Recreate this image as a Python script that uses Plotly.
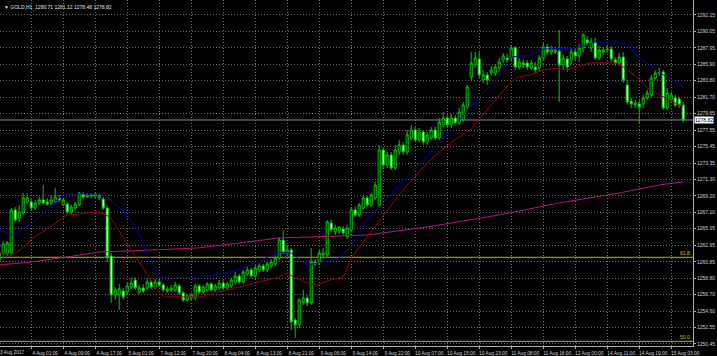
import plotly.graph_objects as go

# ---------------- data ----------------
opens = [1261.09,1261.97,1261.85,1261.97,1267.42,1266.41,1267.04,1268.43,1268.43,1267.67,
         1268.31,1268.69,1268.43,1268.31,1268.43,1268.94,1268.05,1268.18,1267.17,1267.67,
         1268.05,1269.45,1269.07,1269.19,1269.19,1268.94,1268.81,1267.67,1261.59,1256.65,
         1256.65,1257.16,1257.03,1257.67,1258.55,1257.03,1257.54,1257.54,1258.30,1257.67,
         1258.30,1257.92,1257.16,1257.29,1257.29,1257.79,1256.91,1256.02,1256.27,1256.27,
         1257.79,1257.03,1257.29,1258.05,1257.29,1257.54,1258.17,1257.54,1257.79,1258.30,
         1259.06,1258.30,1259.31,1259.82,1259.06,1259.82,1260.33,1259.82,1260.33,1260.58,
         1261.34,1263.62,1261.97,1262.35,1253.49,1252.85,1255.77,1256.27,1255.64,1260.83,
         1260.71,1261.72,1261.72,1265.77,1264.63,1264.76,1265.01,1264.00,1264.89,1267.42,
         1266.79,1267.67,1268.94,1268.05,1268.94,1268.05,1275.02,1273.12,1274.39,1272.74,
         1274.77,1275.65,1274.77,1276.54,1277.55,1276.29,1277.30,1276.03,1276.54,1277.55,
         1276.54,1278.19,1279.07,1278.19,1279.07,1278.44,1278.82,1280.47,1284.27,1285.79,
         1286.55,1283.89,1284.52,1284.77,1284.77,1285.41,1286.42,1286.67,1286.67,1287.94,
         1285.53,1286.04,1286.04,1285.41,1285.53,1285.41,1286.67,1288.07,1287.43,1287.43,
         1287.56,1285.79,1286.55,1286.42,1287.43,1286.93,1287.94,1288.95,1287.94,1288.70,
         1286.67,1287.43,1287.69,1287.81,1286.42,1286.04,1286.80,1283.25,1281.23,1280.72,
         1280.85,1280.85,1281.61,1281.99,1284.14,1284.77,1284.90,1280.34,1281.35,1281.61,
         1281.48,1280.71]
highs = [1262.35,1263.49,1263.49,1267.67,1267.80,1268.05,1269.57,1269.57,1268.81,1268.69,
         1269.07,1270.59,1268.94,1269.32,1270.21,1269.32,1268.94,1268.43,1268.05,1268.43,
         1269.70,1269.70,1269.57,1269.57,1269.70,1269.57,1269.07,1267.93,1261.97,1257.67,
         1258.05,1257.54,1258.30,1258.81,1258.93,1257.92,1258.05,1258.68,1258.55,1258.68,
         1258.55,1258.17,1257.79,1257.92,1258.30,1258.05,1257.16,1256.78,1256.91,1258.05,
         1258.05,1257.92,1258.30,1258.30,1258.05,1258.55,1258.55,1258.30,1258.81,1259.57,
         1259.31,1259.82,1260.33,1260.07,1260.45,1260.71,1260.58,1260.83,1261.21,1261.72,
         1264.00,1264.89,1262.99,1262.61,1253.74,1256.27,1257.29,1256.65,1262.61,1261.21,
         1262.35,1262.61,1266.15,1266.15,1265.52,1265.39,1265.39,1265.52,1267.67,1267.80,
         1268.31,1269.19,1269.19,1269.57,1270.97,1275.65,1275.27,1274.77,1274.77,1275.65,
         1276.29,1276.03,1277.55,1278.19,1277.93,1277.81,1277.55,1277.30,1277.93,1277.93,
         1279.07,1279.83,1279.45,1279.58,1279.45,1280.34,1281.10,1283.25,1287.43,1287.43,
         1287.43,1285.15,1284.90,1285.66,1285.91,1286.67,1287.31,1287.18,1288.32,1288.19,
         1286.67,1286.42,1286.42,1286.42,1286.17,1287.05,1288.57,1288.45,1288.19,1288.07,
         1290.22,1287.05,1286.93,1287.94,1287.94,1288.45,1289.84,1289.46,1289.21,1289.21,
         1288.19,1288.07,1288.32,1288.19,1286.80,1287.31,1287.43,1283.89,1281.61,1281.35,
         1281.35,1281.99,1282.62,1284.52,1285.15,1285.41,1285.15,1282.87,1282.37,1281.99,
         1281.73,1281.12]
lows = [1260.71,1261.72,1261.59,1261.72,1265.90,1265.90,1266.79,1268.18,1267.42,1267.42,
        1268.05,1268.05,1267.93,1268.05,1268.31,1268.43,1267.93,1266.91,1266.91,1267.42,
        1267.93,1268.81,1268.94,1268.94,1268.94,1268.69,1267.42,1260.83,1255.64,1256.02,
        1254.75,1256.02,1256.78,1257.41,1257.29,1256.78,1256.91,1257.29,1257.41,1257.41,
        1257.67,1257.03,1256.91,1257.03,1257.03,1256.65,1255.77,1255.77,1256.02,1256.02,
        1256.78,1256.78,1257.03,1257.03,1257.03,1257.29,1257.29,1257.29,1257.54,1258.05,
        1258.05,1258.05,1259.06,1258.81,1258.81,1259.57,1259.57,1259.57,1260.07,1260.33,
        1261.09,1261.85,1261.72,1252.22,1251.21,1252.47,1255.39,1255.26,1255.39,1260.33,
        1260.45,1261.47,1261.47,1264.63,1264.25,1264.38,1264.25,1263.75,1264.63,1266.53,
        1266.53,1267.42,1267.80,1267.80,1268.69,1267.80,1272.74,1272.74,1272.49,1272.49,
        1274.39,1274.39,1274.39,1276.29,1276.03,1276.03,1275.65,1275.65,1276.29,1276.29,
        1276.29,1277.93,1277.81,1277.81,1278.06,1278.19,1278.57,1280.21,1283.89,1285.41,
        1284.14,1283.51,1283.25,1284.39,1284.39,1284.90,1286.04,1285.91,1286.17,1285.15,
        1285.15,1285.41,1285.15,1285.15,1284.77,1284.90,1286.42,1287.05,1287.05,1287.18,
        1281.10,1285.15,1284.90,1285.91,1286.42,1286.17,1287.43,1288.19,1287.43,1286.42,
        1286.42,1287.05,1287.31,1286.17,1285.66,1285.66,1283.51,1280.72,1280.34,1280.34,
        1278.44,1280.34,1281.35,1281.73,1283.89,1284.39,1280.09,1280.09,1280.97,1280.47,
        1280.34,1278.48]
closes = [1261.97,1263.11,1263.24,1267.42,1266.15,1267.17,1268.94,1268.94,1267.67,1268.31,
          1268.69,1268.31,1268.18,1268.69,1269.07,1268.69,1268.69,1267.17,1267.80,1268.18,
          1269.57,1269.07,1269.32,1269.32,1269.45,1269.32,1267.67,1261.47,1256.65,1257.29,
          1257.41,1256.40,1257.79,1258.17,1257.54,1257.54,1257.16,1258.30,1257.67,1258.30,
          1257.92,1257.29,1257.41,1257.54,1257.92,1256.91,1256.02,1256.53,1256.65,1257.79,
          1257.03,1257.67,1258.05,1257.29,1257.79,1258.17,1257.54,1258.05,1258.55,1259.06,
          1258.30,1259.57,1259.82,1259.06,1260.07,1260.33,1259.82,1260.58,1260.83,1261.34,
          1263.62,1261.97,1262.35,1253.23,1252.85,1256.02,1256.27,1255.64,1260.83,1260.58,
          1261.97,1261.97,1265.90,1264.89,1265.14,1265.27,1264.51,1265.14,1267.42,1266.79,
          1268.05,1268.94,1268.05,1269.32,1270.59,1275.02,1273.12,1274.39,1272.74,1275.02,
          1275.65,1274.77,1276.92,1277.55,1276.29,1277.30,1276.03,1276.92,1277.55,1276.54,
          1278.57,1279.07,1278.19,1279.07,1278.44,1279.83,1280.72,1283.00,1286.04,1286.67,
          1284.52,1284.52,1283.89,1285.15,1285.53,1286.17,1286.93,1286.42,1287.94,1285.53,
          1286.17,1285.79,1285.53,1286.04,1285.15,1286.67,1288.07,1287.43,1287.81,1287.69,
          1285.79,1286.67,1285.53,1287.43,1286.93,1287.94,1289.59,1288.57,1288.70,1286.67,
          1287.69,1287.69,1287.81,1286.55,1286.04,1286.80,1283.89,1281.10,1280.85,1280.97,
          1280.47,1281.61,1282.24,1284.14,1284.77,1284.90,1280.34,1282.24,1281.99,1280.72,
          1280.72,1278.82]
bars = list(range(len(closes)))

# indicator lines: (bar index, price) vertices
blue_x = [0.2, 3.2, 8.5, 12.7, 16, 25, 27, 32, 35, 40, 50, 60, 70, 73, 77, 81, 85, 88, 92,
          100, 108, 115, 120, 125, 128, 133, 136, 144, 147, 149, 155, 157, 160, 163, 165, 168, 171]
blue_y = [1264.89, 1264.25, 1265.77, 1267.80, 1269.45, 1269.45, 1269.07, 1266.79, 1264.25,
          1258.93, 1258.81, 1259.82, 1262.10, 1261.97, 1260.45, 1260.83, 1261.34, 1262.73,
          1266.15, 1270.50, 1274.80, 1278.82, 1281.73, 1284.27, 1286.80, 1287.05, 1287.81,
          1287.94, 1288.45, 1288.70, 1288.70, 1288.32, 1286.80, 1285.53, 1284.90, 1283.89, 1283.00]
red_x = [0.2, 2.7, 5.2, 8.5, 12.7, 17, 25, 27.7, 33.5, 40, 41.5, 50, 60, 70, 72, 73.5, 77,
         79.5, 82.7, 86, 88.2, 92, 95.2, 101, 107.7, 113, 117.7, 123.4, 127.7, 129.7, 132.7,
         136, 140.2, 142, 147.7, 153.5, 156, 159.4, 162, 165.2, 168.5, 171]
red_y = [1262.10, 1261.59, 1262.35, 1263.87, 1265.27, 1266.79, 1267.17, 1266.53, 1261.97,
         1256.91, 1256.40, 1256.40, 1257.67, 1258.93, 1259.44, 1258.93, 1258.17, 1257.92,
         1258.55, 1258.93, 1261.47, 1264.00, 1266.15, 1270.00, 1273.75, 1276.00, 1277.55,
         1280.97, 1283.51, 1284.27, 1284.52, 1285.15, 1285.41, 1285.15, 1286.04, 1286.17,
         1285.53, 1284.27, 1282.87, 1281.98, 1281.09, 1280.46]
ma_x = [0, 8, 17, 25, 33, 42, 50, 60, 70, 92, 107, 125, 140, 155, 165, 171]
ma_y = [1260.45, 1260.83, 1261.47, 1262.10, 1262.24, 1262.49, 1262.62, 1263.24, 1263.87,
        1264.25, 1265.27, 1266.79, 1268.31, 1269.57, 1270.59, 1270.97]

fib_levels = [1261.43, 1250.78]
fib_names = ["61.8", "50.0"]
last_price = 1278.82
title_text = "\u25bc GOLD,H1  1280.71 1281.12 1278.48 1278.82"

x_tick_bars = [0, 8, 16, 24, 32, 40, 48, 56, 64, 72, 80, 88, 96, 104, 112, 120, 128, 136,
               144, 152, 160, 168]
x_tick_labels = ["3 Aug 2017", "4 Aug 01:00", "4 Aug 09:00", "4 Aug 17:00", "5 Aug 01:00",
                 "7 Aug 12:00", "7 Aug 20:00", "8 Aug 04:00", "8 Aug 13:00", "8 Aug 21:00",
                 "9 Aug 06:00", "9 Aug 14:00", "9 Aug 22:00", "10 Aug 07:00", "10 Aug 15:00",
                 "10 Aug 23:00", "11 Aug 08:00", "11 Aug 16:00", "12 Aug 00:00",
                 "14 Aug 11:00", "14 Aug 19:00", "15 Aug 03:00"]
y_tick_labels = ["1250.45", "1252.55", "1254.60", "1256.70", "1258.80", "1260.85", "1262.95",
                 "1265.05", "1267.10", "1269.20", "1271.30", "1273.35", "1275.45", "1277.55",
                 "1279.65", "1281.70", "1283.80", "1285.90", "1287.95", "1290.05", "1292.15"]
y_tick_vals = [float(v) for v in y_tick_labels]

# ---------------- figure ----------------
FONT = "Liberation Sans, Arial, sans-serif"
TXT = "#d0d0d0"
GRID = "#6a6a6a"
GREEN = "#00c800"
DOTS = "1px,2px"

fig = go.Figure()

fig.add_trace(go.Scatter(x=ma_x, y=ma_y, mode="lines",
                         line=dict(color="#b8157c", width=1), hoverinfo="skip"))
fig.add_trace(go.Scatter(x=red_x, y=red_y, mode="lines",
                         line=dict(color="#a00000", width=1), hoverinfo="skip"))
fig.add_trace(go.Scatter(x=blue_x, y=blue_y, mode="lines",
                         line=dict(color="#0000b4", width=1), hoverinfo="skip"))

fig.add_trace(go.Candlestick(
    x=bars, open=opens, high=highs, low=lows, close=closes,
    increasing=dict(line=dict(color=GREEN, width=1), fillcolor="black"),
    decreasing=dict(line=dict(color=GREEN, width=1), fillcolor="white"),
    whiskerwidth=0, hoverinfo="skip"))

shapes = []
for lv in fib_levels:
    shapes.append(dict(type="line", xref="paper", x0=0, x1=1, yref="y", y0=lv, y1=lv,
                       line=dict(color="#b4b400", width=1), layer="below"))
shapes.append(dict(type="line", xref="paper", x0=0, x1=1, yref="y", y0=last_price,
                   y1=last_price, line=dict(color="#7a8898", width=1), layer="below"))

annotations = [
    dict(xref="paper", yref="paper", x=0, y=1, xanchor="left", yanchor="top",
         xshift=2, yshift=-2, text=title_text, showarrow=False,
         font=dict(family=FONT, size=5, color="#e0e0e0")),
    dict(xref="paper", yref="paper", x=0, y=0, xanchor="left", yanchor="top",
         xshift=-2, yshift=-2, text=x_tick_labels[0], showarrow=False,
         font=dict(family=FONT, size=4.8, color=TXT)),
    dict(xref="paper", yref="y", x=1, y=last_price, xanchor="left", yanchor="middle",
         xshift=1, text=str(last_price), showarrow=False, bgcolor="white",
         borderpad=0, font=dict(family=FONT, size=5, color="black")),
]
for lv, nm in zip(fib_levels, fib_names):
    annotations.append(dict(xref="paper", yref="y", x=1, y=lv, xanchor="right",
                            yanchor="bottom", xshift=-1, yshift=-1, text=nm,
                            showarrow=False,
                            font=dict(family=FONT, size=5, color="#c8c800")))

fig.update_layout(
    width=717, height=356,
    margin=dict(l=0, r=24, t=0, b=10, autoexpand=False),
    paper_bgcolor="black", plot_bgcolor="black",
    showlegend=False, hovermode=False, boxgap=0.25,
    shapes=shapes, annotations=annotations,
    xaxis=dict(range=[0.2, 173.45], rangeslider=dict(visible=False),
               tickmode="array", tickvals=x_tick_bars[1:], ticktext=x_tick_labels[1:],
               showgrid=True, gridcolor=GRID, griddash=DOTS, gridwidth=1,
               zeroline=False, showline=True, linecolor="#b0b0b0", linewidth=1,
               ticks="outside", ticklen=2, tickcolor="#b0b0b0",
               ticklabelshift=14, ticklabelstandoff=0, automargin=False,
               tickfont=dict(family=FONT, size=4.8, color=TXT)),
    yaxis=dict(range=[1250.19, 1294.02], side="right",
               tickmode="array", tickvals=y_tick_vals, ticktext=y_tick_labels,
               showgrid=True, gridcolor=GRID, griddash=DOTS, gridwidth=1,
               zeroline=False, showline=True, linecolor="#b0b0b0", linewidth=1,
               ticks="outside", ticklen=2, tickcolor="#b0b0b0", automargin=False,
               tickfont=dict(family=FONT, size=5, color=TXT)),
)

fig.write_html("out.html", config={"displayModeBar": False},
               post_script="document.body.style.margin='0';document.body.style.background='black';")
